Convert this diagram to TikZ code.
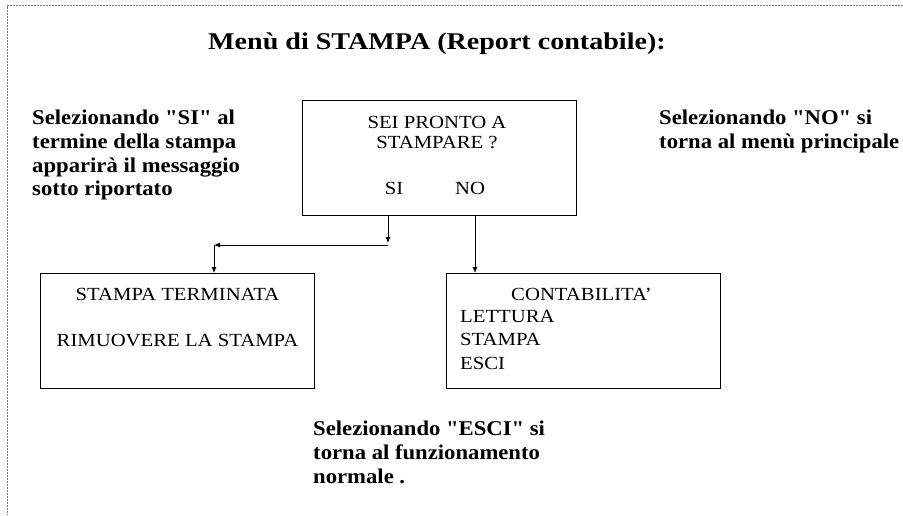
\documentclass[tikz,border=0pt]{standalone}
\usepackage{fontspec}
\setmainfont{Liberation Serif}
\newfontfamily\notefont{Liberation Serif}[FakeStretch=1.08]
\newfontfamily\titlefont{Liberation Serif}[FakeStretch=1.17]
\newfontfamily\lcdfont{Liberation Serif}[FakeStretch=1.12]
\usetikzlibrary{arrows.meta}

\tikzset{
    box/.style={draw, line width=0.9pt, minimum width=274pt, minimum height=115pt, inner sep=0pt},
    lcd/.style={inner sep=0pt, font=\lcdfont\fontsize{18.5}{22}\selectfont},
    note/.style={inner sep=0pt, align=left, anchor=north west, font=\notefont\bfseries\fontsize{21}{23.7}\selectfont},
    arr/.style={line width=0.9pt, -{Latex[length=6pt,width=5pt]}}
}

\begin{document}
\begin{tikzpicture}[x=1pt, y=-1pt]
    \useasboundingbox (0,0) rectangle (903,515);
    \draw[gray, dashed, dash pattern=on 2pt off 1pt, line width=0.6pt] (903,5.5) -- (7.5,5.5) -- (7.5,515);

    \node (title) [inner sep=0pt, font=\titlefont\bfseries\fontsize{24}{28}\selectfont] at (437,44) {Menù di STAMPA (Report contabile):};

    \node (noteSI) [note] at (32,110) {Selezionando "SI" al\\termine della stampa\\apparirà il messaggio\\sotto riportato};
    \node (noteNO) [note] at (659,110) {Selezionando "NO" si\\torna al menù principale};
    \node (noteESCI) [note] at (313,421) {Selezionando "ESCI" si\\torna al funzionamento\\normale .};

    \node (ask) [box] at (439,158) {};
    \node (askA) [lcd] at (437,122) {SEI PRONTO A};
    \node (askB) [lcd] at (437,143) {STAMPARE ?};
    \node (si) [lcd] at (394,188) {SI};
    \node (no) [lcd] at (470,188) {NO};

    \node (done) [box] at (177.5,331) {};
    \node (doneA) [lcd] at (177.5,294) {STAMPA TERMINATA};
    \node (doneB) [lcd] at (177.5,341) {RIMUOVERE LA STAMPA};

    \node (menu) [box] at (583.5,331) {};
    \node (menuA) [lcd] at (581.5,294) {CONTABILITA’};
    \node (lettura) [lcd, anchor=west] at (460,316) {LETTURA};
    \node (stampa) [lcd, anchor=west] at (460,339) {STAMPA};
    \node (esci) [lcd, anchor=west] at (460,363) {ESCI};

    \coordinate (siDown) at (388,243);
    \coordinate (siRight) at (388,245);
    \coordinate (siLeft) at (214,245);
    \coordinate (noDown) at (475,0);

    \draw[arr] (ask.south -| siDown) -- (siDown);
    \draw[arr] (siRight) -- (siLeft);
    \draw[arr] (siLeft) -- (done.north -| siLeft);
    \draw[arr] (ask.south -| noDown) -- (menu.north -| noDown);
\end{tikzpicture}
\end{document}
